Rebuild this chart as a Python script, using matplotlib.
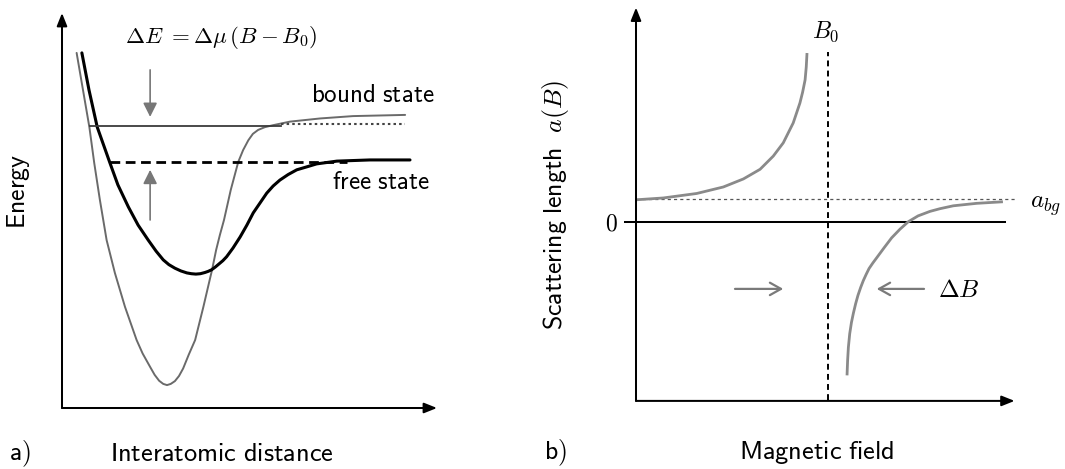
import matplotlib
matplotlib.use("Agg")
import matplotlib.pyplot as plt

plt.rcParams['mathtext.fontset'] = 'cm'

# ---------------- Panel a data (interatomic distance r, energy E) -------------
closed_r = [0.39, 0.56, 0.73, 0.86, 1.01, 1.19, 1.41, 1.68, 1.99, 2.15, 2.35, 2.47,
            2.59, 2.70, 2.80, 2.90, 3.01, 3.12, 3.23, 3.38, 3.55, 3.77, 3.95, 4.00,
            4.11, 4.21, 4.32, 4.50, 4.70, 4.83, 4.97, 5.09, 5.23, 5.41, 5.63, 6.08,
            6.88, 7.76, 9.15]
closed_E = [8.99, 8.05, 7.11, 6.20, 5.27, 4.25, 3.42, 2.56, 1.72, 1.38, 1.04, 0.84,
            0.69, 0.61, 0.58, 0.61, 0.68, 0.81, 1.00, 1.35, 1.72, 2.56, 3.29, 3.49,
            4.00, 4.38, 4.76, 5.52, 6.23, 6.53, 6.78, 6.94, 7.04, 7.11, 7.16, 7.25,
            7.33, 7.39, 7.42]
open_r = [0.53, 0.72, 0.94, 1.28, 1.49, 1.77, 2.03, 2.30, 2.51, 2.70, 2.85, 3.01,
          3.17, 3.33, 3.45, 3.57, 3.69, 3.81, 3.90, 3.99, 4.09, 4.19, 4.29, 4.39,
          4.56, 4.75, 4.93, 5.10, 5.28, 5.46, 5.63, 5.81, 6.03, 6.26, 6.51, 6.79,
          7.33, 8.21, 9.28]
open_E = [8.99, 8.05, 7.11, 6.20, 5.65, 5.09, 4.63, 4.25, 3.97, 3.75, 3.63, 3.54,
          3.47, 3.42, 3.40, 3.39, 3.40, 3.43, 3.46, 3.50, 3.57, 3.65, 3.73, 3.83,
          4.05, 4.33, 4.63, 4.94, 5.19, 5.44, 5.62, 5.77, 5.91, 6.03, 6.10, 6.18,
          6.25, 6.28, 6.28]
bound_E = 7.14
bound_r = [0.75, 5.84]
bound_dotted_E = 7.20
bound_dotted_r = [5.84, 9.15]
free_E = 6.22
free_r = [1.28, 7.60]
shift_r = 2.35
shift_down_E = [8.56, 7.37]
shift_up_E = [4.76, 6.03]
axis_a_len = [10.0, 10.0]

# ---------------- Panel b data (magnetic field B, scattering length a) --------
left_B = [0.04, 1.43, 3.17, 4.56, 5.61, 6.48, 7.17, 7.69, 8.21, 8.56, 8.70, 8.83,
          8.89, 8.93]
left_a = [0.98, 1.06, 1.26, 1.55, 1.91, 2.34, 2.93, 3.52, 4.41, 5.30, 5.78, 6.33,
          6.90, 7.53]
right_B = [11.02, 11.05, 11.09, 11.16, 11.25, 11.35, 11.47, 11.59, 11.73, 11.87,
           12.02, 12.17, 12.37, 12.57, 12.95, 13.35, 13.79, 14.22, 14.73, 15.35,
           15.87, 16.57, 17.79, 19.16]
right_a = [-6.86, -6.20, -5.61, -5.00, -4.50, -4.09, -3.66, -3.29, -2.94, -2.63,
           -2.35, -2.09, -1.84, -1.61, -1.17, -0.72, -0.33, 0.00, 0.26, 0.46,
           0.58, 0.71, 0.82, 0.89]
B0 = 10.0
a_bg = 1.0
zero_B = [-0.57, 19.27]
abg_B = [0.0, 19.9]
B0_line_a = [-7.96, 7.58]
axis_b_x = [0.0, 19.77]
axis_b_y = [-8.0, 9.56]
dB_arrow_left = [5.17, 7.69]
dB_arrow_right = [15.04, 12.57]
dB_arrow_a = -3.0

W, H = 1065, 469
fig = plt.figure(figsize=(W / 100, H / 100), dpi=100)


def make_axes(X0, sx, Y0, sy, xlim, ylim):
    left = X0 + sx * xlim[0]
    right = X0 + sx * xlim[1]
    top = Y0 - sy * ylim[1]
    bottom = Y0 - sy * ylim[0]
    ax = fig.add_axes([left / W, 1 - bottom / H, (right - left) / W, (bottom - top) / H])
    ax.set_xlim(*xlim)
    ax.set_ylim(*ylim)
    ax.axis('off')
    return ax


def axis_arrow(ax, start, end):
    ax.annotate('', xy=end, xytext=start,
                arrowprops=dict(arrowstyle='-|>,head_length=0.55,head_width=0.22',
                                mutation_scale=14, lw=1.45, color='black',
                                shrinkA=0, shrinkB=0))


sf = 18.5   # sans label size
mf = 16.5   # math label size

# ---------------- Panel a ----------------
axa = make_axes(62, 37.5, 408, 39.5, (-1.6, 11.2), (-1.55, 10.3))
axis_arrow(axa, (0, 0), (0, axis_a_len[1]))
axis_arrow(axa, (0, 0), (axis_a_len[0], 0))

axa.plot(closed_r, closed_E, color='#6a6a6a', lw=1.4, solid_capstyle='round',
         solid_joinstyle='round')
axa.plot(open_r, open_E, color='black', lw=2.2, solid_capstyle='round',
         solid_joinstyle='round')
axa.plot(bound_r, [bound_E, bound_E], color='#3a3a3a', lw=1.3)
axa.plot(bound_dotted_r, [bound_dotted_E, bound_dotted_E], color='#444444', lw=1.5,
         dashes=(1.2, 1.5))
axa.plot(free_r, [free_E, free_E], color='black', lw=2.0, dashes=(3.5, 2.0))

for E0, E1 in (shift_down_E, shift_up_E):
    axa.annotate('', xy=(shift_r, E1), xytext=(shift_r, E0),
                 arrowprops=dict(arrowstyle='-|>,head_length=0.6,head_width=0.3',
                                 mutation_scale=14, lw=1.2, color='#777777',
                                 shrinkA=0, shrinkB=0))

axa.text(4.25, 9.37, r'$\Delta E\ {=}\Delta\mu\,(B - B_0)$', fontsize=mf,
         ha='center', va='center')
axa.text(6.64, 7.92, r'$\mathsf{bound\ state}$', fontsize=sf - 0.5, ha='left',
         va='center')
axa.text(7.21, 5.72, r'$\mathsf{free\ state}$', fontsize=sf - 0.5, ha='left',
         va='center')
axa.text(-1.17, 5.47, r'$\mathsf{Energy}$', fontsize=sf, ha='center', va='center',
         rotation=90)
axa.text(4.25, -1.17, r'$\mathsf{Interatomic\ distance}$', fontsize=sf + 0.5,
         ha='center', va='center')
axa.text(-1.12, -1.17, r'$\mathsf{a)}$', fontsize=sf, ha='center', va='center')

# ---------------- Panel b ----------------
axb = make_axes(636, 19.15, 221.7, 22.4, (-4.4, 22.0), (-11.0, 9.85))
axis_arrow(axb, (0, axis_b_y[0]), (0, axis_b_y[1]))
axis_arrow(axb, (axis_b_x[0], axis_b_y[0]), (axis_b_x[1], axis_b_y[0]))

axb.plot(zero_B, [0, 0], color='black', lw=1.45)
axb.plot(abg_B, [a_bg, a_bg], color='#555555', lw=0.9, dashes=(2.5, 2.5))
axb.plot([B0, B0], B0_line_a, color='black', lw=1.4, dashes=(3.0, 2.2))
axb.plot(left_B, left_a, color='#8a8a8a', lw=2.0, solid_capstyle='butt',
         solid_joinstyle='round')
axb.plot(right_B, right_a, color='#8a8a8a', lw=2.0, solid_capstyle='butt',
         solid_joinstyle='round')

for x0, x1 in (dB_arrow_left, dB_arrow_right):
    axb.annotate('', xy=(x1, dB_arrow_a), xytext=(x0, dB_arrow_a),
                 arrowprops=dict(arrowstyle='->,head_length=0.5,head_width=0.28',
                                 mutation_scale=16, lw=1.6, color='#7a7a7a',
                                 shrinkA=0, shrinkB=0))

axb.text(9.92, 8.47, r'$B_0$', fontsize=mf + 0.5, ha='center', va='center')
axb.text(20.55, 0.7, r'$a_{bg}$', fontsize=mf + 1.5, ha='left', va='center')
axb.text(-1.27, -0.1, r'$0$', fontsize=mf + 0.5, ha='center', va='center')
axb.text(15.77, -3.04, r'$\Delta B$', fontsize=mf + 1.5, ha='left', va='center')
axb.text(-4.2, 0.75, r'$\mathsf{Scattering\ length}\ \ a(B)$', fontsize=sf,
         ha='center', va='center', rotation=90)
axb.text(9.44, -10.3, r'$\mathsf{Magnetic\ field}$', fontsize=sf + 0.5,
         ha='center', va='center')
axb.text(-4.2, -10.3, r'$\mathsf{b)}$', fontsize=sf, ha='center', va='center')

fig.savefig('out.png', dpi=100)
